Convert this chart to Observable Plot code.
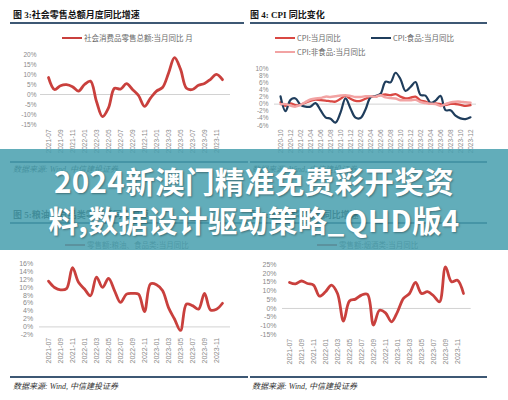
<!DOCTYPE html>
<html><head><meta charset="utf-8">
<script src="https://cdn.jsdelivr.net/npm/d3@7"></script>
<script src="https://cdn.jsdelivr.net/npm/@observablehq/plot@0.6"></script>
<style>
html,body{margin:0;padding:0;background:#fff;}
#root{position:relative;width:508px;height:400px;overflow:hidden;background:#fff;font-family:"Noto Sans CJK SC",sans-serif;}
.abs{position:absolute;}
.title{font:bold 9px/10px "Liberation Serif","Noto Sans CJK SC",serif;color:#151515;white-space:nowrap;}
.rule{height:1.5px;background:#3d5874;}
.src{font:italic 8px/10px "Liberation Serif","Noto Sans CJK SC",serif;color:#333;white-space:nowrap;}
.leg{display:flex;align-items:center;font-size:7.5px;line-height:10px;color:#6a6a6a;white-space:nowrap;}
.leg i{display:inline-block;width:20px;height:2.5px;margin-right:2px;}
#banner{left:0;top:149px;width:508px;height:101px;background:rgba(72,160,175,0.86);}
.bt{left:0;width:508px;text-align:center;color:#fff;font:bold 29.5px/40px "Noto Sans CJK SC",sans-serif;letter-spacing:0.4px;white-space:nowrap;text-shadow:1px 1px 2px rgba(0,0,0,0.35);}
</style></head>
<body><div id="root"></div>
<script>
// ---- data ----
const monthsA = ["2021-07","2021-08","2021-09","2021-10","2021-11","2021-12",
  "2022-01","2022-02","2022-03","2022-04","2022-05","2022-06","2022-07","2022-08","2022-09","2022-10","2022-11","2022-12",
  "2023-01","2023-02","2023-03","2023-04","2023-05","2023-06","2023-07","2023-08","2023-09","2023-10","2023-11","2023-12"];
const retailYoY = [8.5,2.5,4.4,4.9,3.9,1.7, 5.0,6.7,-3.5,-11.1,-6.7,3.1,2.7,5.4,2.5,-0.5,-5.9,-1.8, 1.7,3.5,10.6,18.4,12.7,3.1,2.5,4.6,5.5,7.6,10.1,7.4];
const grainYoY = [11.6,10.0,9.4,9.7,15.0,11.3, 9.6,7.9,12.6,10.0,12.3,9.2,6.2,8.3,8.5,8.3,3.9,10.9, 10.7,9.2,4.9,2.0,-0.9,5.8,5.4,4.5,8.5,4.3,4.5,6.0];
const tobaccoYoY = [14.8,14.0,15.6,14.2,13.3,7.0, 9.5,13.3,8.5,-7.2,4.2,5.3,7.6,8.0,-9.5,-1.0,-2.5,-7.6, -1.9,5.7,8.5,14.8,8.5,9.5,7.2,3.8,23.7,15.2,16.1,8.5];
const cpiMonths = ["2020-10","2020-11","2020-12",
  "2021-01","2021-02","2021-03","2021-04","2021-05","2021-06","2021-07","2021-08","2021-09","2021-10","2021-11","2021-12",
  "2022-01","2022-02","2022-03","2022-04","2022-05","2022-06","2022-07","2022-08","2022-09","2022-10","2022-11","2022-12",
  "2023-01","2023-02","2023-03","2023-04","2023-05","2023-06","2023-07","2023-08","2023-09","2023-10","2023-11","2023-12"];
const cpiAll = [0.5,-0.5,0.2, -0.3,-0.2,0.4,0.9,1.3,1.1,1.0,0.8,0.7,1.5,2.3,1.5, 0.9,0.9,1.5,2.1,2.1,2.5,2.7,2.5,2.8,2.1,1.6,1.8, 2.1,1.0,0.7,0.1,0.2,0.0,-0.3,0.1,0.0,-0.2,-0.5,-0.3];
const cpiFood = [2.2,-2.0,1.2, 1.6,-0.2,-0.7,-0.7,0.3,-1.7,-3.7,-4.1,-5.2,-2.4,1.6,-1.2, -3.8,-3.9,-1.5,1.9,2.3,2.9,6.3,6.1,8.8,7.0,3.7,4.8, 6.2,2.6,2.4,0.4,1.0,2.3,-1.7,-1.7,-3.2,-4.0,-4.2,-3.7];
const cpiNonFood = [0.0,0.0,-0.4, -0.7,-0.2,0.6,1.3,1.6,1.7,2.1,2.0,2.2,2.4,2.5,2.3, 2.0,2.0,2.2,2.2,2.1,2.5,1.9,1.7,1.6,1.1,1.1,1.1, 1.2,0.6,0.3,0.1,0.0,-0.5,0.0,0.5,0.7,0.7,0.5,0.4];

const titles = ["图 3:社会零售总额月度同比增速","图 4: CPI 同比变化","图 5:粮油、食品类零售额同比增速","图 6:烟酒类零售额同比增速"];
const legendNames = ["社会消费品零售总额:当月同比 月","CPI:当月同比","CPI:食品:当月同比","CPI:非食品:当月同比","零售额:粮油、食品类:当月同比","零售额:烟酒类:当月同比"];
const sourceText = "数据来源: Wind, 中信建投证券";
const bannerLines = ["2024新澳门精准免费彩开奖资","料,数据设计驱动策略_QHD版4"];

const RED = "#c9403d", CPIRED = "#d94843", NAVY = "#1f3d5c", PINK = "#f2a3a3";

const root = document.getElementById("root");
function el(cls, css, html){const d=document.createElement("div");d.className="abs "+cls;Object.assign(d.style,css);if(html!=null)d.innerHTML=html;root.appendChild(d);return d;}

function chart(o){
  const svg = Plot.plot({
    width:o.width, height:o.height,
    marginLeft:o.ml, marginRight:o.mr, marginTop:o.mt, marginBottom:o.mb,
    style:{background:"transparent",color:"#8a8a8a",fontSize:o.fs+"px",fontFamily:"'Liberation Sans','Noto Sans CJK SC',sans-serif",overflow:"visible"},
    x:{type:"point",domain:o.months,padding:0},
    y:{domain:o.yDomain},
    marks:[
      Plot.ruleY([0],{stroke:"#d2d2d2",strokeWidth:1,insetLeft:o.il,insetRight:o.ir}),
      Plot.axisY(o.yTicks,{tickSize:0,tickPadding:o.yPad,tickFormat:d=>d+"%"}),
      Plot.axisX(o.months.filter((d,i)=>i%2===0),{tickSize:0,tickPadding:o.xPad,tickRotate:-90}),
      ...o.lines.map(l=>Plot.lineY(l.values,{x:(d,i)=>o.months[i],y:d=>d,stroke:l.color,strokeWidth:l.w,curve:"catmull-rom"}))
    ]
  });
  Object.assign(svg.style,{position:"absolute",left:o.left+"px",top:o.top+"px"});
  root.appendChild(svg);
}

// titles and rules
el("title",{left:"13px",top:"10px"},titles[0]);
el("title",{left:"250px",top:"10px"},titles[1]);
el("rule",{left:"10px",top:"22px",width:"234px"});
el("rule",{left:"250px",top:"22px",width:"237px"});
el("title",{left:"13px",top:"210px"},titles[2]);
el("title",{left:"250px",top:"210px"},titles[3]);
el("rule",{left:"10px",top:"222px",width:"238px"});
el("rule",{left:"250px",top:"222px",width:"237px"});
// source rules + text
el("rule",{left:"10px",top:"161px",width:"238px"});
el("rule",{left:"250px",top:"161px",width:"237px"});
el("src",{left:"13px",top:"165px"},sourceText);
el("src",{left:"252px",top:"165px"},sourceText);
el("rule",{left:"10px",top:"376px",width:"238px"});
el("rule",{left:"250px",top:"376px",width:"237px"});
el("src",{left:"13px",top:"382px"},sourceText);
el("src",{left:"252px",top:"382px"},sourceText);

// legends
el("leg",{left:"62px",top:"33px"},`<i style="background:${RED}"></i>${legendNames[0]}`);
el("leg",{left:"275px",top:"33px"},`<i style="background:${CPIRED}"></i>${legendNames[1]}`);
el("leg",{left:"371px",top:"33px"},`<i style="background:${NAVY}"></i>${legendNames[2]}`);
el("leg",{left:"275px",top:"47px"},`<i style="background:${PINK}"></i>${legendNames[3]}`);
el("leg",{left:"65px",top:"240px"},`<i style="background:${RED}"></i>${legendNames[4]}`);
el("leg",{left:"317px",top:"240px"},`<i style="background:${RED}"></i>${legendNames[5]}`);

// charts
chart({months:monthsA,lines:[{values:retailYoY,color:RED,w:2.8}],yDomain:[-15,20],yTicks:[-15,-10,-5,0,5,10,15,20],
  left:0,top:45,width:254,height:115,ml:43,mr:28,mt:9,mb:36,yPad:7,xPad:5,fs:6.5,il:-3,ir:-4});
chart({months:cpiMonths,lines:[{values:cpiAll,color:CPIRED,w:2.3},{values:cpiFood,color:NAVY,w:2.2},{values:cpiNonFood,color:PINK,w:2.5}],
  yDomain:[-6,10],yTicks:[-6,-4,-2,0,2,4,6,8,10],
  left:254,top:60,width:254,height:100,ml:22,mr:34,mt:8,mb:35,yPad:8,xPad:4,fs:6.5,il:-2,ir:-2});
chart({months:monthsA,lines:[{values:grainYoY,color:RED,w:2.8}],yDomain:[-2,16],yTicks:[-2,0,2,4,6,8,10,12,14,16],
  left:0,top:250,width:254,height:118,ml:42.7,mr:27.7,mt:13.3,mb:33.7,yPad:10,xPad:3,fs:7,il:-3.7,ir:-3.7});
chart({months:monthsA,lines:[{values:tobaccoYoY,color:RED,w:2.8}],yDomain:[-15,25],yTicks:[-15,-10,-5,0,5,10,15,20,25],
  left:254,top:250,width:254,height:118,ml:31,mr:42,mt:14,mb:33.7,yPad:9,xPad:4,fs:7,il:-3,ir:-4.7});

// banner overlay
el("",{},"").id="banner";
root.lastChild.className="abs";
el("bt",{top:"160px"},bannerLines[0]);
el("bt",{top:"199px"},bannerLines[1]);
</script>
</body></html>
